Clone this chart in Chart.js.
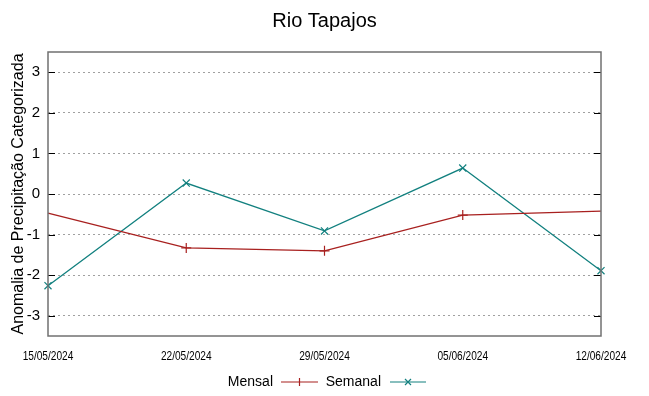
<!DOCTYPE html>
<html>
<head>
<meta charset="utf-8">
<script src="https://cdn.jsdelivr.net/npm/chart.js@4/dist/chart.umd.min.js"></script>
<style>
  html, body { margin: 0; padding: 0; background: #fff; }
  #wrap { width: 649px; height: 396px; }
</style>
</head>
<body>
<div id="wrap"><canvas id="chart" width="649" height="396"></canvas></div>
<script>
// dados
const datas = ['15/05/2024', '22/05/2024', '29/05/2024', '05/06/2024', '12/06/2024'];
const mensal = [-0.47, -1.33, -1.40, -0.52, -0.42];
const semanal = [-2.26, 0.27, -0.91, 0.64, -1.89];
const yTicks = [-3, -2, -1, 0, 1, 2, 3];

const corMensal = '#a8201f';
const corSemanal = '#12807f';
const fonte = '"Liberation Sans", Arial, sans-serif';

// converte dd/mm/aaaa em dias desde a primeira data
function parseData(s) {
    const [d, m, a] = s.split('/').map(Number);
    return Date.UTC(a, m - 1, d);
}
const t0 = parseData(datas[0]);
const dias = datas.map(s => Math.round((parseData(s) - t0) / 86400000));

function fmtDia(v) {
    const d = new Date(t0 + v * 86400000);
    const dd = String(d.getUTCDate()).padStart(2, '0');
    const mm = String(d.getUTCMonth() + 1).padStart(2, '0');
    return `${dd}/${mm}/${d.getUTCFullYear()}`;
}

const moldura = {
    id: 'moldura',
    afterDatasetsDraw(chart) {
        const { ctx, chartArea: a, scales } = chart;
        ctx.save();
        // marcas internas do eixo y (esquerda e direita)
        ctx.strokeStyle = '#000';
        ctx.lineWidth = 1;
        yTicks.forEach(v => {
            const y = Math.round(scales.y.getPixelForValue(v)) + 0.5;
            ctx.beginPath();
            ctx.moveTo(a.left, y); ctx.lineTo(a.left + 7, y);
            ctx.moveTo(a.right, y); ctx.lineTo(a.right - 7, y);
            ctx.stroke();
        });
        ctx.strokeStyle = '#707070';
        ctx.lineWidth = 1.5;
        ctx.strokeRect(a.left, a.top, a.right - a.left, a.bottom - a.top);

        // rótulos do eixo x em fonte estreita
        const sx = scales.x;
        ctx.fillStyle = '#000';
        ctx.font = '13px ' + fonte;
        ctx.textAlign = 'center';
        ctx.textBaseline = 'middle';
        sx.ticks.forEach(t => {
            const x = sx.getPixelForValue(t.value);
            ctx.save();
            ctx.translate(x, 356);
            ctx.scale(0.78, 1);
            ctx.fillText(fmtDia(t.value), 0, 0);
            ctx.restore();
        });
        ctx.restore();
    }
};

const legenda = {
    id: 'legenda',
    afterDraw(chart) {
        const { ctx } = chart;
        const y = 382;
        const itens = [
            { label: 'Mensal', cor: corMensal, estilo: 'cross', xTexto: 273, x0: 281, x1: 318 },
            { label: 'Semanal', cor: corSemanal, estilo: 'crossRot', xTexto: 381, x0: 390, x1: 426 }
        ];
        ctx.save();
        ctx.font = '14px ' + fonte;
        ctx.textBaseline = 'middle';
        ctx.textAlign = 'right';
        itens.forEach(it => {
            ctx.fillStyle = '#000';
            ctx.fillText(it.label, it.xTexto, y);
            ctx.strokeStyle = it.cor;
            ctx.lineWidth = 1.2;
            ctx.beginPath();
            ctx.moveTo(it.x0, y); ctx.lineTo(it.x1, y);
            ctx.stroke();
            const cx = (it.x0 + it.x1) / 2;
            ctx.beginPath();
            if (it.estilo === 'cross') {
                ctx.moveTo(cx, y - 4); ctx.lineTo(cx, y + 4);
            } else {
                ctx.moveTo(cx - 3, y - 3); ctx.lineTo(cx + 3, y + 3);
                ctx.moveTo(cx - 3, y + 3); ctx.lineTo(cx + 3, y - 3);
            }
            ctx.stroke();
        });
        ctx.restore();
    }
};

new Chart(document.getElementById('chart'), {
    type: 'line',
    data: {
        datasets: [
            {
                label: 'Mensal',
                data: dias.map((x, i) => ({ x, y: mensal[i] })),
                borderColor: corMensal,
                backgroundColor: corMensal,
                borderWidth: 1.3,
                pointStyle: 'cross',
                // no original as marcas das pontas não aparecem
                pointRadius: ctx => (ctx.dataIndex === 0 || ctx.dataIndex === dias.length - 1) ? 0 : 5,
                pointBorderWidth: 1.2,
                tension: 0
            },
            {
                label: 'Semanal',
                data: dias.map((x, i) => ({ x, y: semanal[i] })),
                borderColor: corSemanal,
                backgroundColor: corSemanal,
                borderWidth: 1.3,
                pointStyle: 'crossRot',
                pointRadius: 5,
                pointBorderWidth: 1.2,
                tension: 0
            }
        ]
    },
    plugins: [moldura, legenda],
    options: {
        responsive: false,
        animation: false,
        clip: false,
        layout: { padding: { left: 0, right: 0, top: 0, bottom: 30 } },
        plugins: {
            legend: { display: false },
            tooltip: { enabled: false },
            title: {
                display: true,
                text: 'Rio Tapajos',
                color: '#000',
                font: { family: fonte, size: 20, weight: 'normal', lineHeight: 1.2 },
                padding: { top: 9, bottom: 19 }
            }
        },
        scales: {
            x: {
                type: 'linear',
                min: dias[0],
                max: dias[dias.length - 1],
                afterBuildTicks(scale) {
                    scale.ticks = dias.map(v => ({ value: v }));
                },
                afterFit(scale) { scale.height = 30; },
                grid: { display: false, drawTicks: false },
                border: { display: false },
                ticks: { display: false }
            },
            y: {
                min: -3.5,
                max: 3.5,
                afterBuildTicks(scale) {
                    scale.ticks = yTicks.map(v => ({ value: v }));
                },
                afterFit(scale) { scale.width = 48; },
                grid: {
                    color: '#a0a0a0',
                    lineWidth: 1,
                    drawTicks: false
                },
                border: { display: false, dash: [2, 3] },
                title: {
                    display: true,
                    text: 'Anomalia de Precipitação Categorizada',
                    color: '#000',
                    font: { family: fonte, size: 16 },
                    padding: { top: 9, bottom: 0 }
                },
                ticks: {
                    padding: 8,
                    color: '#000',
                    font: { family: fonte, size: 15 },
                    callback: v => String(v)
                }
            },
            // eixo vazio à direita só para reservar a margem
            yDireita: {
                position: 'right',
                min: -3.5,
                max: 3.5,
                afterFit(scale) { scale.width = 48; },
                grid: { display: false, drawTicks: false },
                border: { display: false },
                ticks: { display: false }
            }
        }
    }
});
</script>
</body>
</html>
